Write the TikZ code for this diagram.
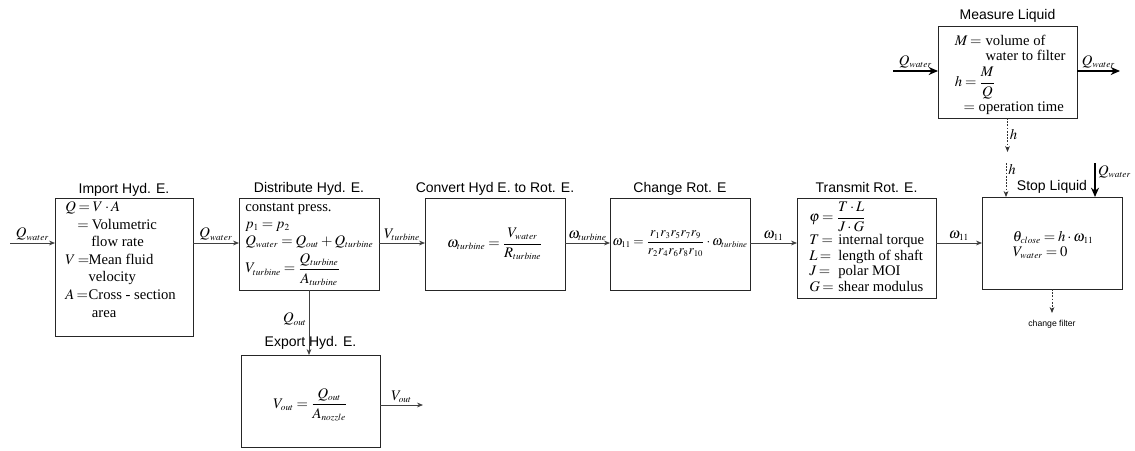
\documentclass[tikz,border=0pt]{standalone}
\usepackage{mathptmx}
\usepackage{fontspec}
\setmainfont{Liberation Serif}
\setsansfont{Liberation Sans}
\usetikzlibrary{arrows.meta,calc}
\DeclareMathSizes{11}{11}{7}{5}
\DeclareMathSizes{10}{10}{6.5}{5}
\AtBeginDocument{\thickmuskip=3.5mu plus 2mu\medmuskip=2.5mu plus 1mu}
\begin{document}
\begin{tikzpicture}[x=0.75pt,y=-0.75pt,
  blk/.style={draw=black!85, line width=0.75pt, inner sep=0pt, outer sep=0pt},
  wh/.style 2 args={minimum width=#1*0.75pt, minimum height=#2*0.75pt},
  ttl/.style={font=\fontsize{10.5}{12}\selectfont\sffamily, anchor=base, inner sep=0pt},
  txt/.style={font=\fontsize{11}{12.75}\selectfont, align=left, inner sep=0pt, anchor=north west},
  eqn/.style={font=\fontsize{11}{12.75}\selectfont, inner sep=0pt},
  arr/.style={draw=black!75, line width=0.6pt, -{Stealth[length=4.5pt,width=3.6pt]}},
  thk/.style={draw=black, line width=1.5pt, -{Stealth[length=7pt,width=6pt]}},
  dotarr/.style={draw=black!80, line width=0.6pt, dash pattern=on 1.3pt off 1.1pt, -{Stealth[length=4.5pt,width=3.6pt]}},
  lab/.style={font=\fontsize{11}{12}\selectfont, inner sep=1.5pt},
]
\useasboundingbox (0,0) rectangle (1135,450);

% boxes
\node[blk, wh={138}{138}] (imp) at (124,267) {};
\node[blk, wh={140}{92}] (dist) at (309,244) {};
\node[blk, wh={140}{92}] (conv) at (495,244) {};
\node[blk, wh={140}{92}] (chg) at (680,244) {};
\node[blk, wh={139}{100}] (trans) at (866.5,248) {};
\node[blk, wh={140}{92}] (stop) at (1052,243) {};
\node[blk, wh={139}{92}] (meas) at (1007.5,72) {};
\node[blk, wh={139}{92}] (exp) at (310.5,401) {};

% titles
\node[ttl] (timp) at ([yshift=3.5pt]imp.north) {Import Hyd. E.};
\node[ttl] (tdist) at ([yshift=3.8pt]dist.north) {Distribute Hyd. E.};
\node[ttl] (tconv) at ([yshift=3.8pt]conv.north) {Convert Hyd E. to Rot. E.};
\node[ttl] (tchg) at ([yshift=3.8pt]chg.north) {Change Rot. E};
\node[ttl] (ttrans) at ([yshift=3.8pt]trans.north) {Transmit Rot. E.};
\node[ttl] (tstop) at ([yshift=5pt]stop.north) {Stop Liquid};
\node[ttl] (tmeas) at ([yshift=5pt]meas.north) {Measure Liquid};
\node[ttl] (texp) at ([yshift=6.5pt]exp.north) {Export Hyd. E.};

% box contents
\node[txt, font=\fontsize{11}{13.2}\selectfont] (ximp) at ([xshift=7.5pt,yshift=-2.5pt]imp.north west) {%
$Q = V\cdot A$\\
\hspace*{9pt}\makebox[11pt][l]{$=$}Volumetric\\
\hspace*{19.5pt}flow rate\\
\makebox[17.5pt][l]{$V$\,$=$}Mean fluid\\
\hspace*{17.5pt}velocity\\
\makebox[17.5pt][l]{$A$\,$=$}Cross - section\\
\hspace*{20pt}area};

\node[txt] (xdist) at ([xshift=4.5pt,yshift=-3.5pt]dist.north west) {%
constant press.\\
$p_1 = p_2$\\
$Q_{water} = Q_{out} + Q_{turbine}$\\[3pt]
$V_{turbine} = \displaystyle\frac{Q_{turbine}}{A_{turbine}}$};

\node[eqn] (xconv) at (conv.center) {$\omega_{turbine} = \displaystyle\frac{V_{water}}{R_{turbine}}$};

\node[eqn, font=\fontsize{10}{12}\selectfont] (xchg) at (chg.center) {$\omega_{11} = \displaystyle\frac{r_1 r_3 r_5 r_7 r_9}{r_2 r_4 r_6 r_8 r_{10}}\cdot\omega_{turbine}$};

\node[txt, font=\fontsize{11}{11.6}\selectfont] (xtrans) at ([xshift=9pt,yshift=-3pt]trans.north west) {%
$\varphi = \displaystyle\frac{T\cdot L}{J\cdot G}$\\[1pt]
\makebox[21.75pt][l]{$T$\,$=$}internal torque\\
\makebox[21.75pt][l]{$L$\,$=$}length of shaft\\
\makebox[21.75pt][l]{$J$\,$=$}polar MOI\\
\makebox[21.75pt][l]{$G$\,$=$}shear modulus};

\node[txt, anchor=west, font=\fontsize{11}{11}\selectfont] (xstop) at ([xshift=23pt,yshift=-1.5pt]stop.west) {%
$\theta_{close} = h\cdot\omega_{11}$\\
$V_{water} = 0$};

\node[txt, font=\fontsize{11}{11.5}\selectfont] (xmeas) at ([xshift=12.5pt,yshift=-6.5pt]meas.north west) {%
\makebox[23pt][l]{$M$\,$=$}volume of\\
\hspace*{23pt}water to filter\\[4pt]
$h = \displaystyle\frac{M}{Q}$\\[0.5pt]
\hspace*{6.5pt}$=$ operation time};

\node[eqn] (xexp) at ([yshift=-3pt]exp.center) {$V_{out} = \displaystyle\frac{Q_{out}}{A_{nozzle}}$};

% connectors
\coordinate (ya) at (0,243);
\coordinate (qin) at (10,243);
\draw[arr] (qin) -- (qin -| imp.west) node[lab, midway, above] {$Q_{water}$};
\draw[arr] (imp.east |- ya) -- (dist.west |- ya) node[lab, midway, above] {$Q_{water}$};
\draw[arr] (dist.east |- ya) -- (conv.west |- ya) node[lab, midway, above] {$V_{turbine}$};
\draw[arr] (conv.east |- ya) -- (chg.west |- ya) node[lab, midway, above] {$\omega_{turbine}$};
\draw[arr] (chg.east |- ya) -- (trans.west |- ya) node[lab, midway, above] {$\omega_{11}$};
\draw[arr] (trans.east |- ya) -- (stop.west |- ya) node[lab, midway, above] {$\omega_{11}$};

\draw[arr] (dist.south) -- (dist.south |- exp.north) node[lab, pos=0.45, left] {$Q_{out}$};
\coordinate (vout) at (423,405);
\draw[arr] (exp.east |- vout) -- (vout) node[lab, midway, above] {$V_{out}$};

\coordinate (mqin) at (893,71);
\coordinate (mqout) at (1120,71);
\draw[thk] (mqin) -- (mqin -| meas.west) node[lab, midway, above] {$Q_{water}$};
\draw[thk] (meas.east |- mqout) -- (mqout) node[lab, midway, above] {$Q_{water}$};

\coordinate (h1) at (1007.5,152);
\draw[dotarr] (meas.south) -- (h1) node[lab, midway, right] {$h$};
\coordinate (h2) at (1006,163);
\draw[dotarr] (h2) -- (h2 |- stop.north) node[lab, pos=0.2, right] {$h$};
\coordinate (qs) at (1095,163);
\draw[thk] (qs) -- (qs |- stop.north) node[lab, pos=0.25, right] {$Q_{water}$};

\coordinate (cf) at (1052,313);
\draw[dotarr] (stop.south) -- (cf);
\node[font=\fontsize{6.5}{7}\selectfont\sffamily, inner sep=0pt, anchor=north] (cft) at ([yshift=-5pt]cf) {change filter};
\end{tikzpicture}
\end{document}
